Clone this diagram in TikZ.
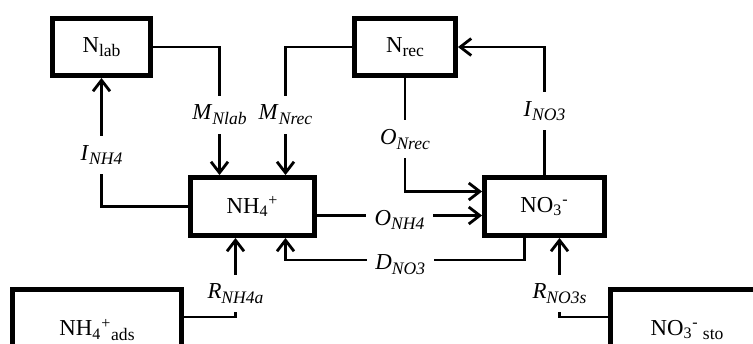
\documentclass[tikz,border=0pt]{standalone}
\usepackage{fontspec}
\setmainfont{Liberation Serif}
\usetikzlibrary{arrows.meta, calc}
\tikzset{
  pool/.style = {rectangle, draw, line width=2.8pt, inner sep=0pt,
                 font=\fontsize{13}{15}\selectfont},
  flow/.style = {line width=1.4pt, -{Straight Barb[length=2.2mm, width=3.4mm, line width=1.6pt]}},
  rate/.style = {fill=white, inner xsep=5pt, inner ysep=5pt,
                 font=\fontsize{13}{15}\selectfont},
}
\newcommand{\lowsub}[1]{\raisebox{-0.45ex}{\fontsize{10}{12}\selectfont #1}}
\newcommand{\flux}[2]{\textit{#1}\lowsub{\textit{#2}}}

\begin{document}
\begin{tikzpicture}[x=0.02cm, y=-0.02cm]
  \clip (0,0) rectangle (753,343);

  %% Pools
  \node[pool, minimum width=1.96cm, minimum height=1.14cm] (nlab)   at (101.5, 47)  {N\lowsub{lab}};
  \node[pool, minimum width=2.02cm, minimum height=1.14cm] (nrec)   at (405, 47)    {N\lowsub{rec}};
  \node[pool, minimum width=2.48cm, minimum height=1.16cm] (nh4)    at (252.5, 206.5) {NH\textsubscript{4}\textsuperscript{+}};
  \node[pool, minimum width=2.40cm, minimum height=1.16cm] (no3)    at (544.5, 206.5) {NO\textsubscript{3}\textsuperscript{-}};
  \node[pool, minimum width=3.38cm, minimum height=1.62cm] (nh4ads) at (97, 330)    {NH\textsubscript{4}\textsuperscript{+}\lowsub{ads}};
  \node[pool, minimum width=3.06cm, minimum height=1.62cm] (no3sto) at (687, 330)   {NO\textsubscript{3}\textsuperscript{-}\lowsub{ sto}};

  %% Fluxes into NH4+
  \draw[flow] (nlab.east) -| node[rate, pos=0.765] {\flux{M}{Nlab}} ($(nh4.north)+(-33,0)$);
  \draw[flow] (nrec.west) -| node[rate, pos=0.765] {\flux{M}{Nrec}} ($(nh4.north)+(33,0)$);
  \draw[flow] ($(nh4ads.east)+(0,-13)$) -| node[rate, pos=0.65] {\flux{R}{NH4a}} ($(nh4.south)+(-17,0)$);
  \draw[flow] ($(no3.south)+(-20,0)$) |- node[rate, pos=0.76, yshift=-2.5pt] {\flux{D}{NO3}}
        ($(nh4.south)+(33,22)$) -- ($(nh4.south)+(33,0)$);

  %% Fluxes into NO3-
  \draw[flow] ($(nh4.east)+(0,9)$) -- node[rate, yshift=-2.5pt] {\flux{O}{NH4}} ($(no3.west)+(0,9)$);
  \draw[flow] (nrec.south) |- node[rate, pos=0.27] {\flux{O}{Nrec}} ($(no3.west)+(0,-15)$);
  \draw[flow] ($(no3sto.west)+(0,-13)$) -| node[rate, pos=0.65] {\flux{R}{NO3s}} ($(no3.south)+(15,0)$);

  %% Immobilisation
  \draw[flow] (nh4.west) -| node[rate, pos=0.7] {\flux{I}{NH4}} (nlab.south);
  \draw[flow] (no3.north) |- node[rate, pos=0.25] {\flux{I}{NO3}} (nrec.east);

\end{tikzpicture}
\end{document}
